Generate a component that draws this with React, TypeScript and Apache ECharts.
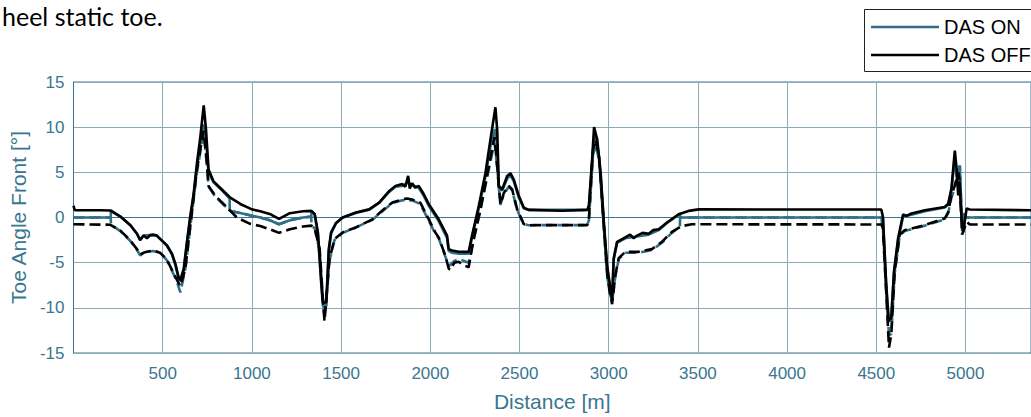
import React, { useEffect, useRef } from "react";
import * as echarts from "echarts";

// Distance [m] / toe angle [deg] pairs
const dasOffOuter: number[][] = [
  [0, 1.3], [8, 0.8], [150, 0.8], [205, 0.78], [263, 0.1], [319, -0.85], [356, -1.8], [374, -2.5], [393, -2.0],
  [412, -2.3], [430, -1.95], [450, -1.9], [467, -2.0], [487, -2.4], [524, -3.1], [552, -4.0], [571, -5.1],
  [590, -6.7], [599, -6.9], [618, -5.7], [636, -2.7], [655, 0.2], [674, 2.7], [692, 6.0], [711, 8.9], [730, 12.4],
  [743, 9.7], [757, 5.3], [785, 4.0], [832, 3.1], [879, 2.2], [935, 1.5], [1000, 0.9], [1047, 0.7], [1100, 0.4],
  [1152, -0.15], [1213, 0.48], [1287, 0.7], [1333, 0.73], [1352, 0.37], [1370, -1.65], [1389, -7.1], [1398, -9.4],
  [1417, -9.4], [1431, -3.5], [1444, -1.65], [1472, -0.6], [1509, 0], [1583, 0.55], [1657, 0.9], [1713, 1.65],
  [1768, 2.9], [1805, 3.5], [1842, 3.7], [1860, 3.4], [1876, 4.6], [1885, 3.2], [1898, 3.8], [1915, 3.3],
  [1935, 3.5], [1963, 2.6], [1991, 1.5], [2047, -0.2], [2094, -2.0], [2103, -3.5], [2122, -3.65], [2159, -3.8],
  [2215, -3.8], [2234, -2.0], [2272, 1.3], [2309, 4.9], [2337, 8.6], [2365, 12.2], [2375, 9.7], [2384, 3.5],
  [2403, 3.1], [2431, 4.6], [2450, 4.9], [2468, 4.2], [2496, 2.4], [2524, 1.1], [2552, 0.84], [2740, 0.75],
  [2880, 0.84], [2889, 1.3], [2908, 6.75], [2918, 10.0], [2936, 8.6], [2955, 4.9], [2974, -0.9], [2991, -5.3],
  [3009, -7.8], [3019, -9.1], [3028, -4.5], [3047, -2.7], [3093, -2.2], [3120, -1.9], [3140, -2.3], [3159, -2.0],
  [3190, -1.7], [3224, -1.8], [3250, -1.4], [3280, -1.3], [3327, -0.55], [3392, 0.36], [3448, 0.73], [3504, 0.9],
  [4528, 0.88], [4537, 0.07], [4556, -7.8], [4569, -11.5], [4584, -11.1], [4599, -6.0], [4622, -2.3], [4650, 0.33],
  [4669, 0.18], [4697, 0.44], [4772, 0.8], [4884, 1.17], [4903, 1.54], [4921, 3.2], [4940, 7.4], [4950, 5.4],
  [4959, 2.45], [4966, 4.0], [4978, -0.1], [4987, -1.6], [5006, 1.0], [5024, 0.88], [5370, 0.8],
];

const dasOffInner: number[][] = [
  [0, -0.75], [205, -0.8], [263, -1.46], [319, -2.55], [356, -3.5], [374, -4.1], [393, -3.9], [411, -3.8],
  [448, -3.65], [485, -3.9], [522, -4.6], [552, -5.8], [580, -6.9], [599, -7.6], [627, -5.7], [655, -0.9],
  [692, 5.3], [720, 8.6], [730, 9.6], [748, 6.0], [757, 3.5], [795, 2.4], [841, 1.5], [916, 0.0], [990, -0.7],
  [1047, -0.95], [1100, -1.3], [1152, -1.7], [1213, -1.3], [1287, -1.0], [1333, -0.9], [1352, -1.2], [1380, -3.5],
  [1398, -9.0], [1407, -11.5], [1414, -9.7], [1435, -4.6], [1463, -2.4], [1509, -1.65], [1583, -1.1], [1676, -0.2],
  [1750, 1.1], [1787, 1.65], [1842, 2.0], [1870, 2.1], [1898, 2.0], [1944, 1.65], [1972, 0.55], [2028, -1.65],
  [2047, -2.2], [2084, -4.2], [2103, -5.65], [2112, -5.8], [2135, -5.0], [2159, -4.9], [2190, -5.3], [2215, -5.5],
  [2243, -2.4], [2281, 0.9], [2318, 4.6], [2346, 7.5], [2360, 8.9], [2375, 5.65], [2393, 1.46], [2412, 2.7],
  [2440, 3.5], [2459, 3.1], [2487, 0.9], [2524, -0.73], [2552, -0.85], [2880, -0.84], [2889, -0.2], [2912, 7.5],
  [2927, 8.6], [2946, 6.75], [2974, -1.3], [2990, -6.0], [3002, -7.8], [3019, -9.6], [3037, -6.4], [3056, -4.5],
  [3093, -3.8], [3168, -3.8], [3242, -3.5], [3298, -2.7], [3354, -1.6], [3410, -0.95], [3466, -0.75],
  [4528, -0.77], [4537, -1.2], [4556, -8.5], [4571, -14.4], [4584, -12.9], [4603, -6.0], [4631, -1.9],
  [4659, -1.4], [4772, -0.84], [4884, -0.1], [4903, 0.6], [4921, 2.45], [4940, 3.55], [4959, 5.0], [4966, 4.3],
  [4981, -1.9], [4993, -1.2], [5006, -0.48], [5024, -0.77], [5370, -0.77],
];

const dasOnOuter: number[][] = [
  [0, 0], [209, 0], [210, 0.78], [263, 0.1], [319, -0.85], [356, -1.8], [374, -2.5], [393, -2.0], [430, -1.95],
  [467, -2.0], [487, -2.4], [524, -3.1], [552, -4.1], [571, -5.3], [590, -6.8], [599, -7.0], [618, -5.9],
  [636, -2.9], [655, 0.0], [674, 2.5], [692, 5.6], [711, 8.3], [728, 10.3], [743, 8.5], [757, 5.0], [785, 3.9],
  [832, 3.0], [875, 2.1], [876, 0.75], [935, 0.5], [1000, 0.2], [1047, 0.0], [1100, -0.3], [1152, -0.75],
  [1213, -0.3], [1287, 0.0], [1333, 0.1], [1334, 0.73], [1352, 0.37], [1370, -1.8], [1389, -7.5], [1398, -9.8],
  [1417, -9.8], [1431, -3.8], [1444, -1.8], [1472, -0.6], [1509, 0], [1583, 0.5], [1657, 0.85], [1713, 1.6],
  [1768, 2.8], [1805, 3.4], [1842, 3.5], [1876, 3.9], [1898, 3.6], [1935, 3.3], [1963, 2.4], [1991, 1.3],
  [2047, -0.4], [2094, -2.3], [2103, -3.7], [2122, -3.9], [2159, -4.0], [2215, -4.0], [2234, -2.2], [2272, 1.0],
  [2309, 4.5], [2337, 7.8], [2362, 9.8], [2375, 8.0], [2384, 3.3], [2403, 3.0], [2431, 4.3], [2450, 4.7],
  [2468, 4.0], [2496, 2.2], [2524, 1.0], [2552, 0.84], [2880, 0.84], [2889, 1.2], [2908, 6.3], [2920, 9.0],
  [2936, 8.2], [2955, 4.6], [2974, -1.0], [2991, -5.5], [3009, -8.0], [3019, -9.2], [3028, -4.7], [3047, -2.8],
  [3093, -2.3], [3159, -2.1], [3224, -1.9], [3280, -1.4], [3327, -0.6], [3399, 0.4], [3400, 0.0], [4530, 0.0],
  [4537, 0.0], [4556, -7.5], [4569, -11.0], [4584, -11.0], [4599, -6.2], [4622, -2.6], [4650, 0.1], [4697, 0.3],
  [4772, 0.7], [4884, 1.1], [4903, 1.4], [4921, 3.0], [4940, 6.5], [4950, 4.5], [4968, 5.75], [4978, 0.2],
  [4985, -1.0], [4990, 0.5], [4991, 0.0], [5370, 0],
];

const dasOnInner: number[][] = [
  [0, 0], [209, 0], [210, -0.8], [263, -1.5], [319, -2.6], [356, -3.6], [374, -4.2], [393, -3.9], [411, -3.8],
  [448, -3.7], [485, -3.9], [522, -4.7], [552, -5.9], [580, -7.1], [599, -8.3], [627, -5.7], [655, -1.0],
  [692, 5.0], [720, 8.3], [730, 9.3], [748, 5.8], [757, 3.4], [795, 2.3], [841, 1.4], [875, 0.9], [876, 0.75],
  [935, 0.5], [1000, 0.2], [1047, 0.0], [1100, -0.3], [1152, -0.75], [1213, -0.3], [1287, 0.0], [1333, 0.1],
  [1334, -0.9], [1352, -1.2], [1380, -3.7], [1398, -9.2], [1407, -11.0], [1414, -10.0], [1435, -4.8],
  [1463, -2.5], [1509, -1.7], [1583, -1.1], [1676, -0.25], [1750, 1.0], [1787, 1.6], [1842, 1.9], [1898, 1.9],
  [1944, 1.5], [1972, 0.4], [2028, -1.8], [2047, -2.3], [2084, -4.3], [2103, -5.4], [2135, -4.8], [2159, -4.6],
  [2215, -5.0], [2243, -2.5], [2281, 0.8], [2318, 4.4], [2346, 7.0], [2360, 8.3], [2375, 5.5], [2393, 1.4],
  [2412, 2.6], [2440, 3.4], [2459, 3.0], [2487, 0.8], [2524, -0.75], [2552, -0.85], [2880, -0.84], [2889, -0.3],
  [2912, 7.0], [2927, 8.0], [2946, 6.4], [2974, -1.5], [2990, -6.2], [3002, -8.0], [3019, -9.3], [3037, -6.6],
  [3056, -4.6], [3093, -3.9], [3168, -3.9], [3242, -3.6], [3298, -2.8], [3354, -1.7], [3399, -1.0], [3400, 0.0],
  [4530, 0.0], [4531, -0.77], [4537, -1.2], [4556, -8.3], [4571, -13.0], [4584, -12.9], [4603, -6.2],
  [4631, -2.0], [4659, -1.5], [4772, -0.9], [4884, -0.2], [4903, 0.5], [4921, 2.2], [4940, 3.3], [4959, 5.0],
  [4968, 5.75], [4981, -1.5], [4990, -0.5], [4991, 0.0], [5370, 0],
];

const legendLabels = ["DAS ON", "DAS OFF"];
const titleText = "heel static toe.";
const xAxisName = "Distance [m]";
const yAxisName = "Toe Angle Front [°]";

const TEAL = "#2f6f86";
const AXIS = "#3a7690";
const GRIDC = "#8daab8";
const FONT = "'Liberation Sans', Arial, sans-serif";

export default function App() {
  const ref = useRef<HTMLDivElement>(null);
  useEffect(() => {
    if (!ref.current) return;
    const chart = echarts.init(ref.current, undefined, { renderer: "svg" });
    chart.setOption({
      animation: false,
      backgroundColor: "#ffffff",
      grid: { left: 73.3, right: -2, top: 82, bottom: 61, show: true, borderColor: AXIS, borderWidth: 1, backgroundColor: "transparent" },
      xAxis: {
        type: "value",
        min: 0,
        max: 5367,
        interval: 500,
        name: xAxisName,
        nameLocation: "middle",
        nameGap: 38,
        nameTextStyle: { color: AXIS, fontSize: 21, fontFamily: FONT },
        axisLine: { show: true, lineStyle: { color: AXIS, width: 1 } },
        axisTick: { show: false },
        axisLabel: {
          color: AXIS, fontSize: 17, fontFamily: FONT, margin: 12, showMinLabel: false, showMaxLabel: false,
          formatter: (v: number) => String(v),
        },
        splitLine: { show: true, lineStyle: { color: GRIDC, width: 1 } },
      },
      yAxis: {
        type: "value",
        min: -15,
        max: 15,
        interval: 5,
        name: yAxisName,
        nameLocation: "middle",
        nameGap: 42,
        nameTextStyle: { color: AXIS, fontSize: 21, fontFamily: FONT },
        axisLine: { show: true, lineStyle: { color: AXIS, width: 1 } },
        axisTick: { show: false },
        axisLabel: { color: AXIS, fontSize: 17, fontFamily: FONT, margin: 9, formatter: (v: number) => String(v) },
        splitLine: { show: true, lineStyle: { color: GRIDC, width: 1 } },
      },
      series: [
        { name: "DAS ON", type: "line", data: dasOnOuter, symbol: "none", lineStyle: { color: TEAL, width: 2.6 }, z: 2 },
        { name: "DAS ON (inner)", type: "line", data: dasOnInner, symbol: "none", lineStyle: { color: TEAL, width: 2.6, type: [11, 5] }, z: 2 },
        { name: "DAS OFF", type: "line", data: dasOffOuter, symbol: "none", lineStyle: { color: "#000", width: 2.6 }, z: 3 },
        { name: "DAS OFF (inner)", type: "line", data: dasOffInner, symbol: "none", lineStyle: { color: "#000", width: 2.6, type: [11, 5] }, z: 3 },
      ],
      graphic: [
        { type: "text", z: 10, x: 2, y: 3, style: { text: titleText, fontSize: 25, fontFamily: "Lato, 'Noto Sans', sans-serif", fill: "#000", verticalAlign: "top" } },
        { type: "rect", z: 10, shape: { x: 864.5, y: 9.5, width: 200, height: 62 }, style: { fill: "#fff", stroke: "#222", lineWidth: 1 } },
        { type: "line", z: 11, shape: { x1: 871, y1: 27, x2: 939, y2: 27 }, style: { stroke: TEAL, lineWidth: 2.5 } },
        { type: "line", z: 11, shape: { x1: 871, y1: 55, x2: 939, y2: 55 }, style: { stroke: "#000", lineWidth: 2.5 } },
        { type: "text", z: 11, x: 944, y: 27, style: { text: legendLabels[0], fontSize: 20, fontFamily: FONT, fill: "#000", verticalAlign: "middle" } },
        { type: "text", z: 11, x: 944, y: 55, style: { text: legendLabels[1], fontSize: 20, fontFamily: FONT, fill: "#000", verticalAlign: "middle" } },
      ],
    });
    return () => chart.dispose();
  }, []);
  return <div ref={ref} style={{ position: "fixed", left: 0, top: 0, width: 1031, height: 417, background: "#fff" }} />;
}
